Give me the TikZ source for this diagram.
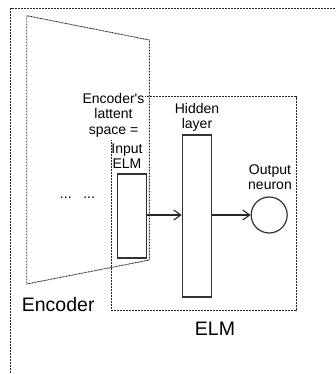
\documentclass[tikz,border=0pt]{standalone}
\usepackage{fontspec}
\setmainfont{Liberation Sans}
\usetikzlibrary{arrows.meta}
\tikzset{
  dotline/.style={draw=black!85, line width=0.9pt, dash pattern=on 0.9pt off 0.6pt},
  solidbox/.style={draw=black!80, line width=1.2pt, inner sep=0pt},
  smalltext/.style={font=\fontsize{14}{15.5}\selectfont, text=black, align=center, inner sep=0pt},
  bigtext/.style={font=\fontsize{19.5}{22}\selectfont, text=black, inner sep=0pt},
  conn/.style={draw=black!85, line width=1.1pt, -{Straight Barb[length=7pt,width=10pt,line width=1.1pt]}}
}
\begin{document}
\begin{tikzpicture}[x=1pt,y=-1pt]
\clip (0,0) rectangle (336,374);
% outer dotted frame (cropped)
\draw[dotline] (10.5,400) -- (10.5,8.3) -- (400,8.3);
% encoder trapezoid
\draw[dotline] (26.7,15.7) -- (149.3,40) -- (149.3,260) -- (26.7,284) -- cycle;
% ELM box
\draw[dotline] (111.7,96.7) rectangle (296,310.7);
% labels
\node[smalltext, fill=white, inner xsep=1pt, inner ysep=3pt] (lat) at (113.5,115) {Encoder\textquotesingle s\\lattent\\space =};
\node[smalltext] (inlbl) at (127,156) {Input\\ELM};
\node[smalltext] (hidlbl) at (197,117.5) {Hidden\\layer};
\node[smalltext] (outlbl) at (270,177) {Output\\neuron};
\node[smalltext, anchor=base] (dots) at (77.5,198) {...\ \ \ ...};
\node[bigtext, anchor=base west] (enclbl) at (21.7,311) {Encoder};
\node[bigtext, anchor=base] (elmlbl) at (215,335) {ELM};
% boxes
\node[solidbox, minimum width=29.4pt, minimum height=84pt] (inbox) at (132,216) {};
\node[solidbox, minimum width=29.4pt, minimum height=162pt] (hidbox) at (197,216) {};
\node[solidbox, circle, minimum size=36pt] (out) at (269.2,215) {};
% connectors
\draw[conn] (inbox.east |- 0,215) -- (hidbox.west |- 0,215);
\draw[conn] (hidbox.east |- 0,215) -- (out.west);
\end{tikzpicture}
\end{document}
